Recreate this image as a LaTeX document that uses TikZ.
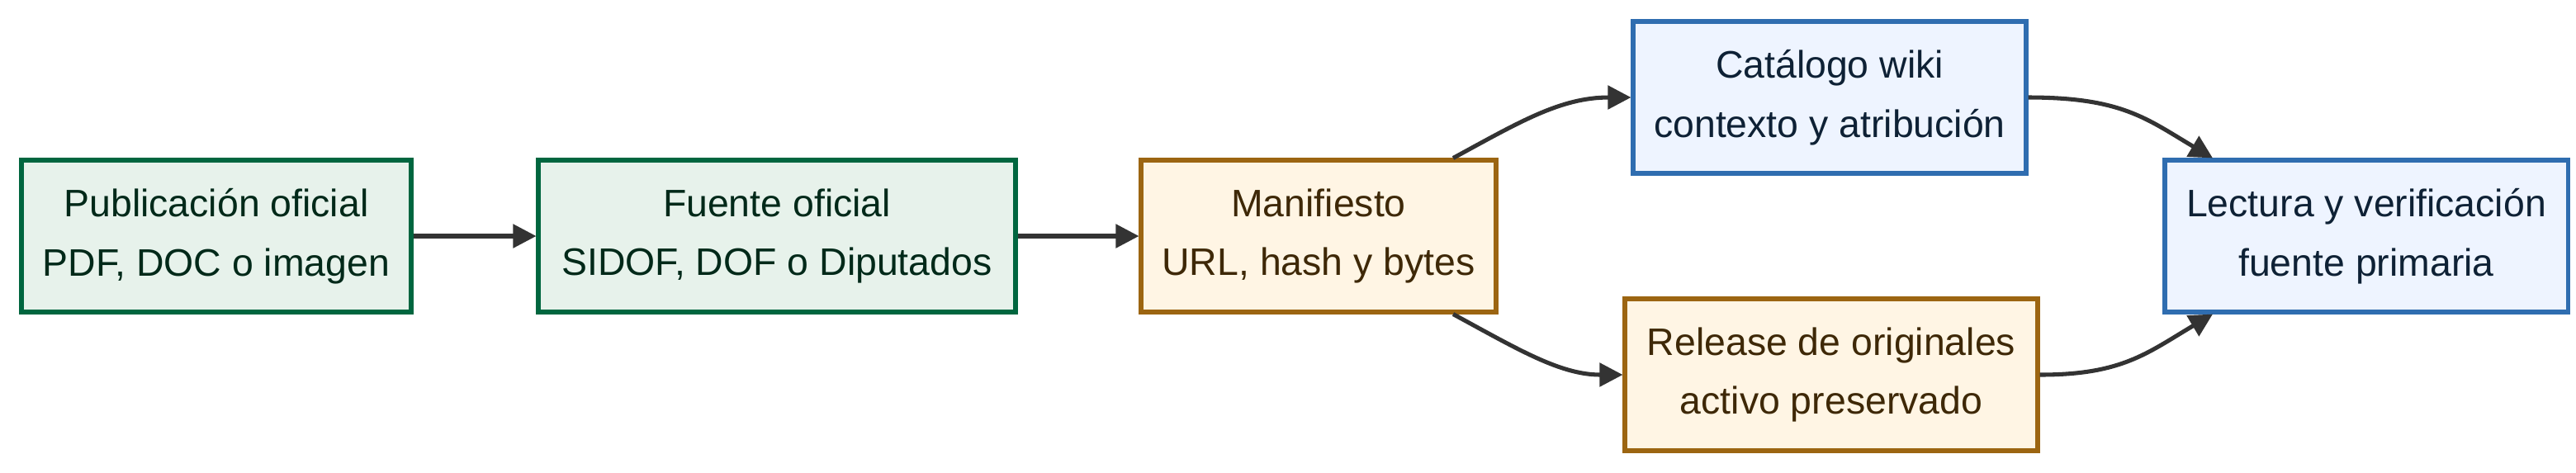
\documentclass[tikz,border=0pt]{standalone}
\usepackage{fontspec}
\setmainfont{Liberation Sans}
\usetikzlibrary{arrows.meta}
\definecolor{grnfill}{HTML}{E7F2EB}
\definecolor{grnline}{HTML}{00663F}
\definecolor{orafill}{HTML}{FFF5E4}
\definecolor{oraline}{HTML}{9C6511}
\definecolor{blufill}{HTML}{EEF4FF}
\definecolor{bluline}{HTML}{2F6DB0}
\definecolor{arr}{HTML}{333333}
\tikzset{
	box/.style={draw,line width=1.8pt,align=center,inner sep=0pt,
		font=\fontsize{16.5}{25.5}\selectfont},
	green/.style={box,fill=grnfill,draw=grnline,text=grnline!40!black},
	orange/.style={box,fill=orafill,draw=oraline,text=oraline!40!black},
	blue/.style={box,fill=blufill,draw=bluline,text=bluline!30!black},
	flow/.style={draw=arr,line width=1.8pt,-{Triangle[length=10pt,width=10pt]}}
}
\begin{document}
\begin{tikzpicture}[x=0.025cm,y=-0.025cm]
	\useasboundingbox (0,0) rectangle (1560,286);
	\node[green,minimum width=236*0.025cm,minimum height=92*0.025cm] (pub) at (131,143) {Publicación oficial\\PDF, DOC o imagen};
	\node[green,minimum width=289*0.025cm,minimum height=92*0.025cm] (fuente) at (470.5,143) {Fuente oficial\\SIDOF, DOF o Diputados};
	\node[orange,minimum width=215*0.025cm,minimum height=92*0.025cm] (manif) at (798.5,143) {Manifiesto\\URL, hash y bytes};
	\node[blue,minimum width=238*0.025cm,minimum height=92*0.025cm] (wiki) at (1108,59) {Catálogo wiki\\contexto y atribución};
	\node[orange,minimum width=250*0.025cm,minimum height=92*0.025cm] (rel) at (1109,227) {Release de originales\\activo preservado};
	\node[blue,minimum width=244*0.025cm,minimum height=92*0.025cm] (lect) at (1433,143) {Lectura y verificación\\fuente primaria};
	% conexiones
	\draw[flow] (pub) -- (fuente);
	\draw[flow] (fuente) -- (manif);
	\draw[flow] (manif.north -| 880,0) .. controls (920,74) and (945,59) .. (wiki.west);
	\draw[flow] (manif.south -| 880,0) .. controls (920,212) and (945,227) .. (rel.west);
	\draw[flow] (wiki.east) .. controls (1285,59) and (1300,72) .. (lect.north -| 1340,0);
	\draw[flow] (rel.east) .. controls (1285,227) and (1300,214) .. (lect.south -| 1340,0);
\end{tikzpicture}
\end{document}
